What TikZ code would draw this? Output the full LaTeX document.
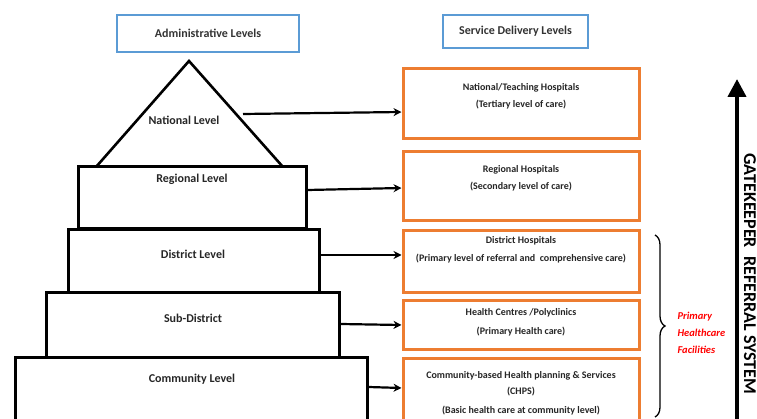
\documentclass[tikz,border=0pt]{standalone}
\usepackage{fontspec}
\setmainfont{Carlito}
\usetikzlibrary{arrows.meta,decorations.pathreplacing}
\definecolor{hdrblue}{RGB}{91,155,213}
\definecolor{orng}{RGB}{237,125,49}
\definecolor{brred}{RGB}{255,0,0}
\tikzset{
  hdr/.style={draw=hdrblue, line width=2.5pt, font=\bfseries\fontsize{12}{14}\selectfont, text=black!80},
  lvl/.style={draw=black, line width=3pt, fill=white},
  svc/.style={draw=orng, line width=3pt, minimum width=236pt},
  lbl/.style={font=\bfseries\fontsize{12}{14}\selectfont, text=black!85},
  stxt/.style={font=\bfseries\fontsize{10}{12}\selectfont, text=black!85, align=center},
  conn/.style={line width=2.2pt, -{Stealth[length=8pt,width=8pt]}},
}
\begin{document}
\begin{tikzpicture}[x=1pt,y=-1pt]
\useasboundingbox (0,0) rectangle (757,419);
\clip (0,0) rectangle (757,419);
\fill[white] (0,0) rectangle (757,419);
% headers
\node[hdr, minimum width=182pt, minimum height=37pt] (adm) at (208,33.5) {Administrative Levels};
\node[hdr, minimum width=145pt, minimum height=33pt] (sdl) at (515.5,31.5) {Service Delivery Levels};
% pyramid (bottom to top so borders overlap correctly)
\node[lvl, minimum width=352pt, minimum height=90pt] (comm) at (191,402) {};
\node[lvl, minimum width=293pt, minimum height=64pt] (sub) at (192.5,325) {};
\node[lvl, minimum width=251pt, minimum height=63pt] (dist) at (193.5,261.5) {};
\node[lvl, minimum width=228pt, minimum height=62pt] (reg) at (192,198) {};
\draw[line width=2.6pt, line join=miter] (96,167) -- (189,61) -- (283,167);
\coordinate (natout) at (243,114);
\node[lbl] (natl) at (184,120) {National Level};
\node[lbl] (regl) at (192,179) {Regional Level};
\node[lbl] (distl) at (193,254) {District Level};
\node[lbl] (subl) at (193,318) {Sub-District};
\node[lbl] (comml) at (192,379) {Community Level};
% service boxes
\node[svc, minimum height=70pt] (o1) at (521,104) {};
\node[svc, minimum height=69pt] (o2) at (521,186.5) {};
\node[svc, minimum height=62pt] (o3) at (521,262) {};
\node[svc, minimum height=48pt] (o4) at (521,325) {};
\node[svc, minimum height=86pt] (o5) at (521,401) {};
\node[stxt] (t1a) at (521,88) {National/Teaching Hospitals};
\node[stxt] (t1b) at (521,105) {(Tertiary level of care)};
\node[stxt] (t2a) at (521,170) {Regional Hospitals};
\node[stxt] (t2b) at (521,187) {(Secondary level of care)};
\node[stxt] (t3a) at (521,241) {District Hospitals};
\node[stxt] (t3b) at (521,259) {(Primary level of referral and \ comprehensive care)};
\node[stxt] (t4a) at (521,313) {Health Centres /Polyclinics};
\node[stxt] (t4b) at (521,332) {(Primary Health care)};
\node[stxt] (t5a) at (521,376) {Community-based Health planning \& Services};
\node[stxt] (t5b) at (521,392) {(CHPS)};
\node[stxt] (t5c) at (521,411) {(Basic health care at community level)};
% connectors
\draw[conn] (natout) -- (o1.west |- 0,112);
\draw[conn] (reg.east |- 0,190) -- (o2.west |- 0,188);
\draw[conn] (dist.east |- 0,255) -- (o3.west |- 0,255);
\draw[conn] (sub.east |- 0,324) -- (o4.west |- 0,325);
\draw[conn] (comm.east |- 0,387) -- (o5.west |- 0,388);
% brace
\coordinate (bt) at (655,235);
\coordinate (bb) at (655,417);
\draw[line width=1.3pt, decorate, decoration={brace, amplitude=10pt}] (bt) -- (bb);
\node[font=\itshape\bfseries\fontsize{10.5}{17}\selectfont, text=brred, align=left, anchor=west] (phf) at (674,333) {Primary\\Healthcare\\Facilities};
% gatekeeper arrow
\coordinate (gbot) at (737,425);
\coordinate (gtop) at (737,79);
\draw[line width=4pt, -{Triangle[length=18pt,width=18pt]}] (gbot) -- (gtop);
\node[font=\bfseries\fontsize{18}{20}\selectfont, rotate=-90, anchor=west] (gk) at (750,150) {GATEKEEPER\ \ REFERRAL SYSTEM};
\end{tikzpicture}
\end{document}
